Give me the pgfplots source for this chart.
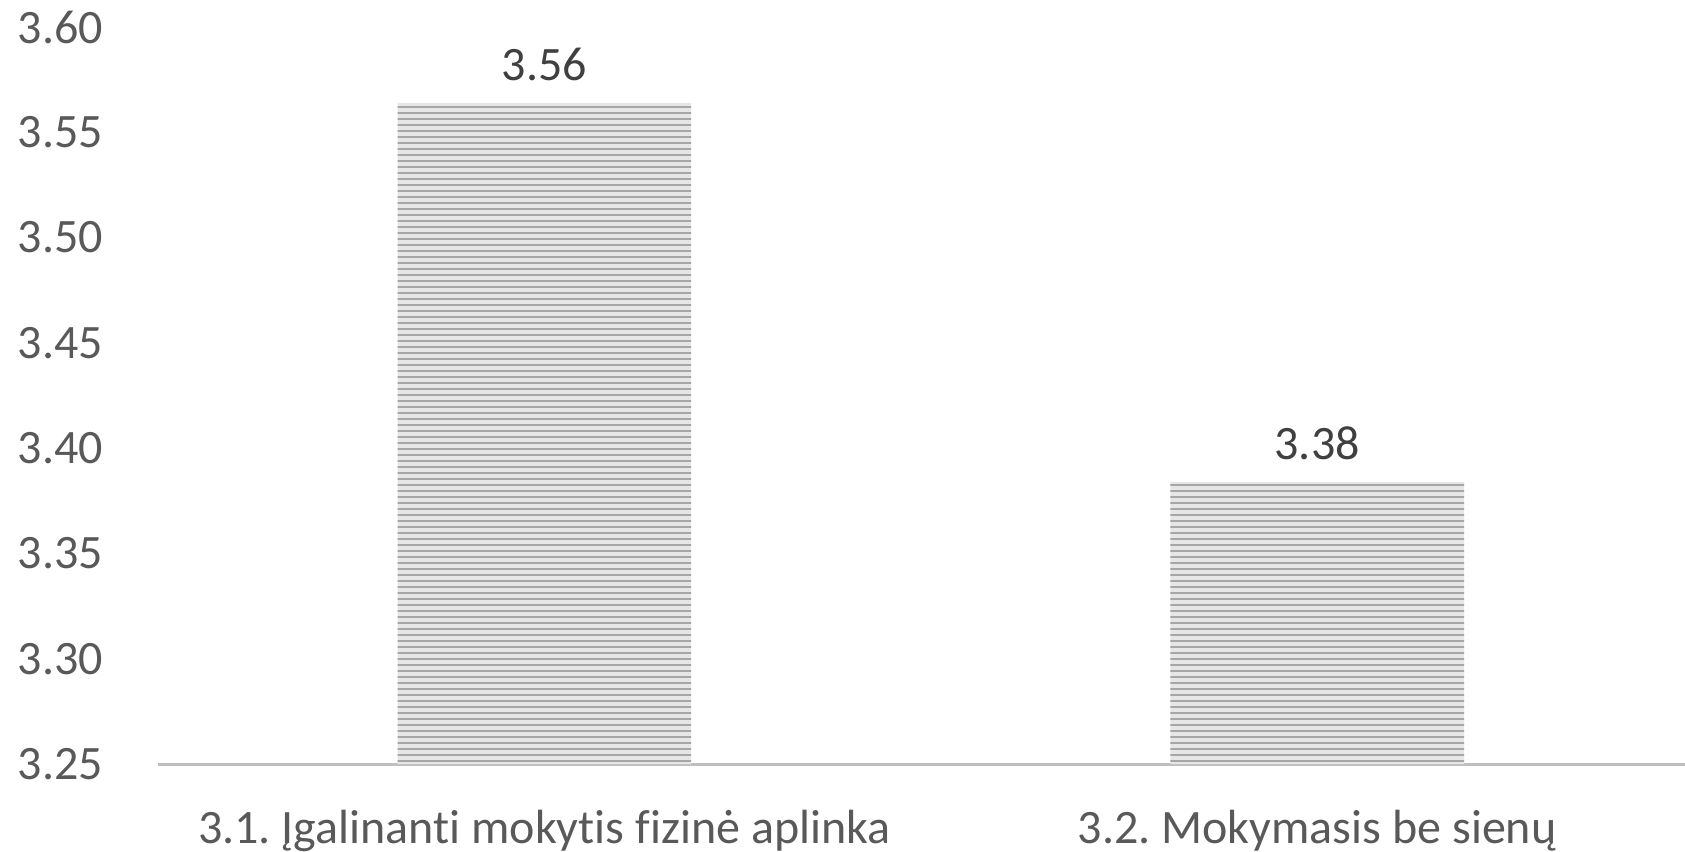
\documentclass[border=0pt]{standalone}
\usepackage{pgfplots}
\pgfplotsset{compat=1.18}
\usepackage{fontspec}
\setmainfont{Carlito}[Ligatures=CommonOff]
\usetikzlibrary{patterns.meta}
\definecolor{ticktext}{HTML}{595959}
\definecolor{labeltext}{HTML}{404040}
\definecolor{axisgray}{HTML}{BFBFBF}
\definecolor{barlight}{HTML}{E6E6E6}
\definecolor{bardark}{HTML}{A6A6A6}
\frenchspacing
\begin{document}
\begin{tikzpicture}
\useasboundingbox (-47.4pt,-26.1pt) rectangle (458.1pt,229.2pt);
\begin{axis}[
    at={(0,0)}, anchor=south west,
    scale only axis,
    width=458.1pt,
    height=221.1pt,
    ymin=3.25, ymax=3.60,
    xmin=-0.5, xmax=1.476,
    ytick={3.25,3.30,...,3.61},
    xtick={0,1},
    xticklabels={3.1. Įgalinanti mokytis fizinė aplinka, 3.2. Mokymasis be sienų},
    axis x line*=bottom,
    axis y line*=left,
    y axis line style={draw=none},
    x axis line style={draw=axisgray, line width=0.9pt},
    major tick style={draw=none},
    /pgf/number format/assume math mode=true,
    yticklabel={\pgfmathprintnumber[fixed,fixed zerofill,precision=2]{\tick}},
    yticklabel style={font=\fontsize{14.4}{16}\selectfont, text=ticktext, xshift=-13pt},
    xticklabel style={font=\fontsize{14.4}{16}\selectfont, text=ticktext, yshift=-6pt},
    ybar,
    bar width=0.38,
    nodes near coords,
    nodes near coords style={font=\fontsize{14.4}{16}\selectfont, text=labeltext, yshift=3pt,
        /pgf/number format/.cd, fixed, fixed zerofill, precision=2},
    clip=false,
]
\addplot[draw=none, fill=barlight,
    postaction={pattern={Lines[angle=0, distance=1.8pt, line width=0.75pt]}, pattern color=bardark}]
    coordinates {(0,3.564) (1,3.384)};
\end{axis}
\end{tikzpicture}
\end{document}
